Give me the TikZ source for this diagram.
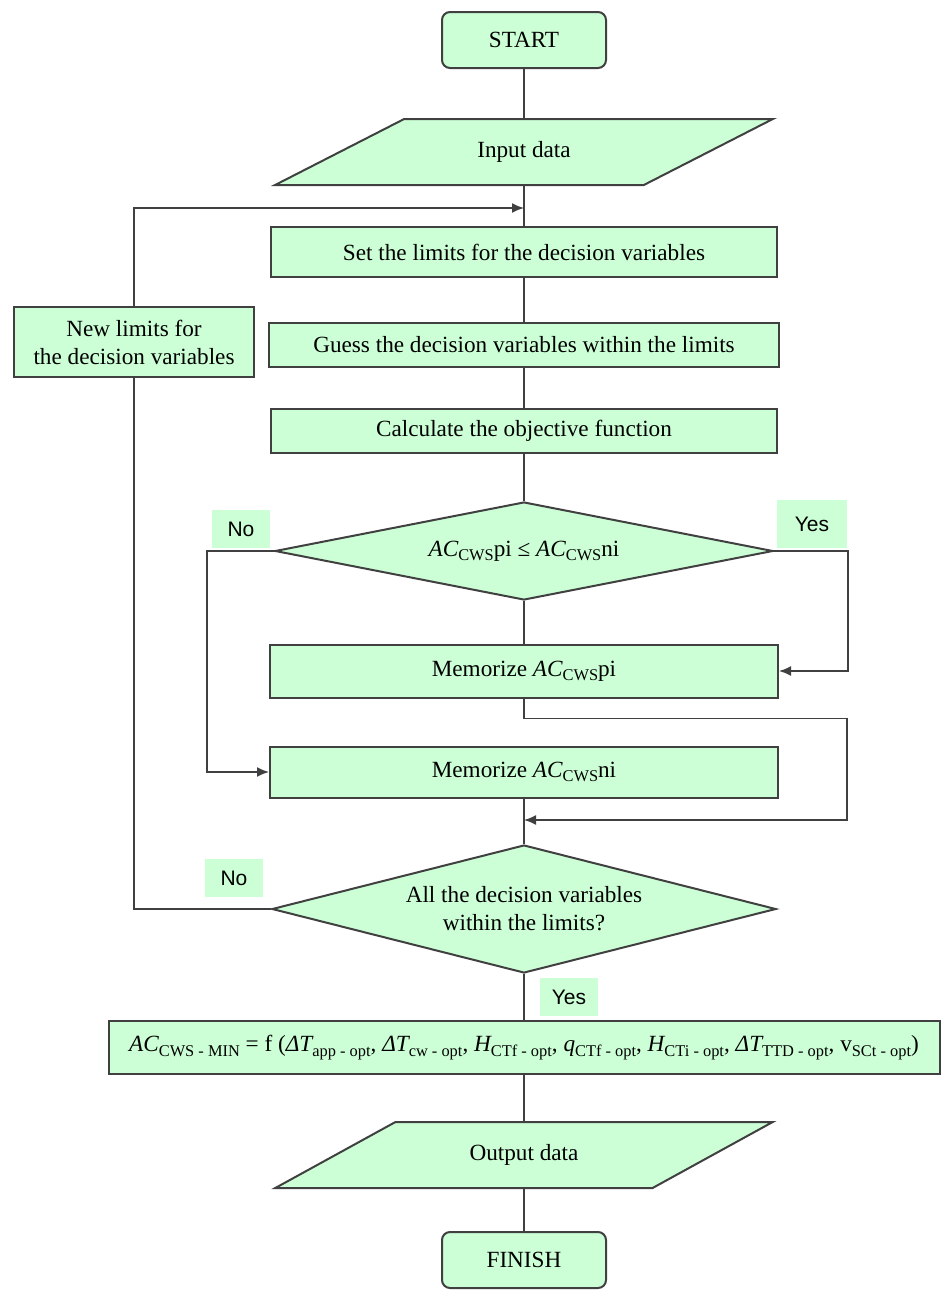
\documentclass[tikz,border=0pt]{standalone}
\usepackage{fontspec}
\setmainfont{Liberation Serif}
\newfontfamily\tagfont{Liberation Sans}
\usepackage{xcolor}
\usetikzlibrary{arrows.meta,positioning,shapes.geometric,calc}
\definecolor{mint}{HTML}{CCFFD6}
\definecolor{edge}{HTML}{404040}
\newcommand{\lowsub}[1]{\raisebox{-0.4ex}{\fontsize{8.2}{9}\selectfont #1}}
\newcommand{\acws}{{\itshape AC}\lowsub{CWS}}

\begin{document}
\begin{tikzpicture}[
  x=0.5pt,y=-0.5pt,
  font=\fontsize{11.6}{14}\selectfont,
  box/.style={draw=edge,fill=mint,line width=1pt,align=center,inner sep=2pt},
  term/.style={box,rounded corners=4pt,minimum width=82pt,minimum height=28pt},
  io/.style={box,trapezium,trapezium left angle=28,trapezium right angle=152,
             trapezium stretches=true,minimum width=249pt,minimum height=33pt},
  decide/.style={box,diamond,shape aspect=4,inner sep=0pt},
  tag/.style={fill=mint,font=\tagfont\fontsize{10.5}{12}\selectfont,
              minimum width=29pt,minimum height=19pt,inner sep=0pt},
  ln/.style={draw=edge,line width=0.8pt},
  ar/.style={ln,-{Latex[length=6pt,width=5pt]}}
]
\useasboundingbox (0,0) rectangle (944,1290);

\node[term] (start) at (524,40) {START};
\node[io] (input) at (524,152) {Input data};
\node[box,minimum width=253pt,minimum height=25pt] (setlim) at (524,252)
      {Set the limits for the decision variables};
\node[box,minimum width=255pt,minimum height=22pt] (guess) at (524,345)
      {Guess the decision variables within the limits};
\node[box,minimum width=120pt,minimum height=35pt] (newlim) at (134,342)
      {New limits for\\the decision variables};
\node[box,minimum width=253pt,minimum height=22pt] (calc) at (524,431)
      {Calculate the objective function};
\node[decide,minimum width=249pt,minimum height=49pt] (cmp) at (524,551)
      {\acws pi ≤ \acws ni};
\node[box,minimum width=254pt,minimum height=26.5pt] (mempi) at (524,671)
      {Memorize \acws pi};
\node[box,minimum width=254pt,minimum height=25.5pt] (memni) at (524,772)
      {Memorize \acws ni};
\node[decide,minimum width=252pt,minimum height=64pt] (check) at (524,909)
      {All the decision variables\\within the limits?};
\node[box,minimum width=415.5pt,minimum height=26.5pt] (result) at (524,1047.5)
      {{\itshape AC}\lowsub{CWS - MIN} = f ({\itshape ΔT}\lowsub{app - opt},
       {\itshape ΔT}\lowsub{cw - opt}, {\itshape H}\lowsub{CTf - opt},
       {\itshape q}\lowsub{CTf - opt}, {\itshape H}\lowsub{CTi - opt},
       {\itshape ΔT}\lowsub{TTD - opt}, v\lowsub{SCt - opt})};
\node[io] (output) at (524,1155) {Output data};
\node[term] (finish) at (524,1260) {FINISH};

\node[tag] (no1) at (241,529) {No};
\node[tag,minimum width=35pt,minimum height=24pt] (yes1) at (812,524) {Yes};
\node[tag] (no2) at (234,878) {No};
\node[tag] (yes2) at (569,997) {Yes};

\coordinate (loopin) at (524,208);
\coordinate (merge) at (524,820);

\draw[ln] (start) -- (input);
\draw[ln] (input) -- (setlim);
\draw[ar] (newlim.north) |- (loopin);
\draw[ln] (setlim) -- (guess);
\draw[ln] (guess) -- (calc);
\draw[ln] (calc) -- (cmp);
\draw[ln] (cmp) -- (mempi);
\draw[ar] (cmp.east) -- ++(74,0) |- (mempi);
\draw[ar] (cmp.west) -- ++(-67,0) |- (memni);
\draw[ar] (mempi.south) -- ++(0,20) -| ([xshift=161.5pt]merge) -- (merge);
\draw[ln] (memni) -- (check);
\draw[ln] (check.west) -| (newlim.south);
\draw[ln] (check) -- (result);
\draw[ln] (result) -- (output);
\draw[ln] (output) -- (finish);
\end{tikzpicture}
\end{document}
